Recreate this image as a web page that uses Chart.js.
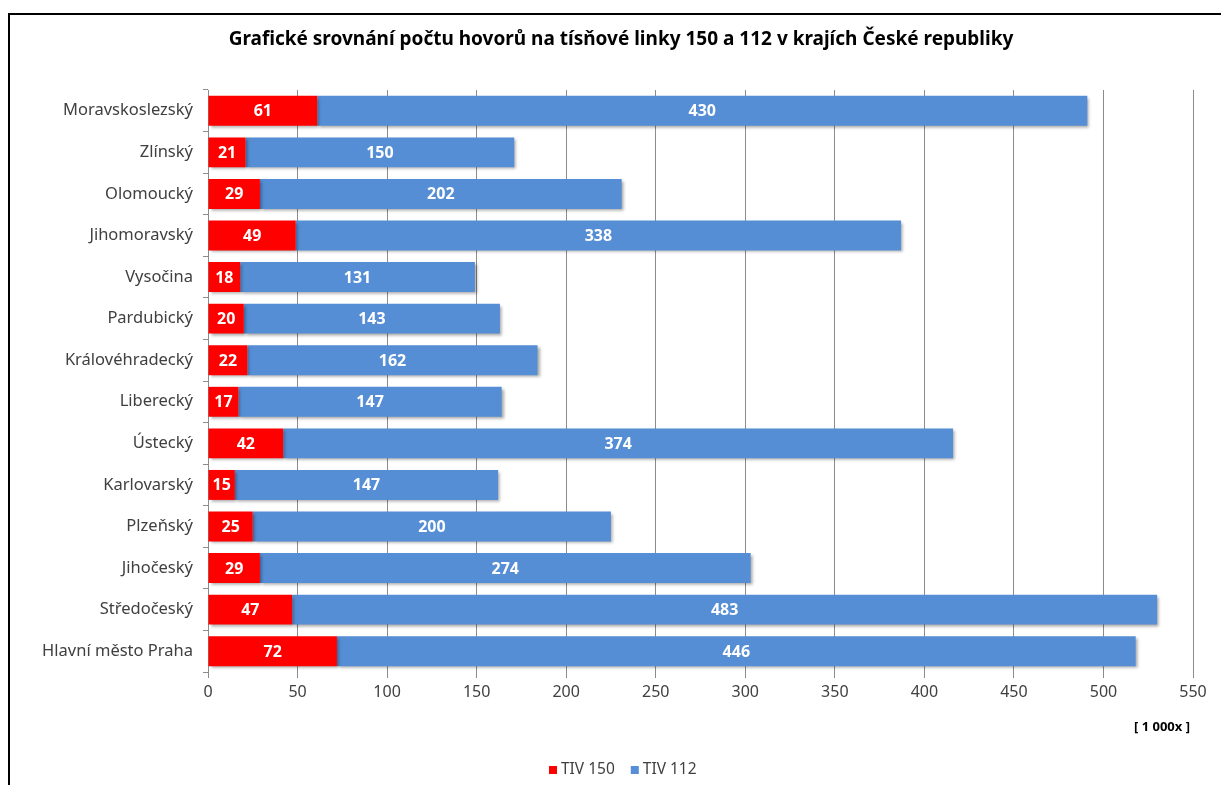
<!DOCTYPE html>
<html lang="cs">
<head>
<meta charset="utf-8">
<title>Hovory na tísňové linky 150 a 112</title>
<script src="https://cdn.jsdelivr.net/npm/chart.js@4/dist/chart.umd.min.js"></script>
<style>
  html, body { margin: 0; padding: 0; background: #fff; overflow: hidden; }
  #wrap { position: relative; width: 1221px; height: 785px; }
  #frame {
    position: absolute; left: 8px; top: 13px; width: 1300px; height: 900px;
    border: 2.5px solid #000; box-sizing: border-box; pointer-events: none;
  }
  canvas { position: absolute; left: 0; top: 0; }
</style>
</head>
<body>
<div id="wrap">
  <canvas id="chart" width="1221" height="785"></canvas>
  <div id="frame"></div>
</div>
<script>
// ── Data ────────────────────────────────────────────
const regions = [
  "Moravskoslezský", "Zlínský", "Olomoucký", "Jihomoravský", "Vysočina",
  "Pardubický", "Královéhradecký", "Liberecký", "Ústecký", "Karlovarský",
  "Plzeňský", "Jihočeský", "Středočeský", "Hlavní město Praha",
];
const tiv150 = [61, 21, 29, 49, 18, 20, 22, 17, 42, 15, 25, 29, 47, 72];
const tiv112 = [430, 150, 202, 338, 131, 143, 162, 147, 374, 147, 200, 274, 483, 446];
const xTicks = [0, 50, 100, 150, 200, 250, 300, 350, 400, 450, 500, 550];

const titleText = "Grafické srovnání počtu hovorů na tísňové linky 150 a 112 v krajích České republiky";
const unitText = "[ 1 000x ]";

const FONT = "'Noto Sans', 'DejaVu Sans', sans-serif";
const TEXT = "#404040";
const RED = "#ff0000";
const BLUE = "#558ed5";

// ── Plugins ─────────────────────────────────────────
// soft drop shadow under the bars
const barShadow = {
  id: "barShadow",
  beforeDatasetDraw(chart) {
    const ctx = chart.ctx;
    ctx.save();
    ctx.shadowColor = "rgba(0,0,0,0.35)";
    ctx.shadowBlur = 3;
    ctx.shadowOffsetX = 2;
    ctx.shadowOffsetY = 2;
  },
  afterDatasetDraw(chart) {
    chart.ctx.restore();
  },
};

// white value labels centred in each segment
const segmentLabels = {
  id: "segmentLabels",
  afterDatasetsDraw(chart) {
    const ctx = chart.ctx;
    ctx.save();
    ctx.font = "bold 16px " + FONT;
    ctx.fillStyle = "#fff";
    ctx.textAlign = "center";
    ctx.textBaseline = "middle";
    chart.data.datasets.forEach((ds, di) => {
      chart.getDatasetMeta(di).data.forEach((bar, i) => {
        const left = Math.min(bar.x, bar.base);
        const right = Math.max(bar.x, bar.base);
        ctx.fillText(String(ds.data[i]), (left + right) / 2, bar.y + 1);
      });
    });
    ctx.restore();
  },
};

// title, unit note and legend
const decorations = {
  id: "decorations",
  afterDraw(chart) {
    const ctx = chart.ctx;
    ctx.save();
    ctx.textBaseline = "middle";

    ctx.fillStyle = "#000";
    ctx.font = "bold 19px " + FONT;
    ctx.textAlign = "center";
    ctx.fillText(titleText, 621, 40);

    ctx.font = "bold 13px " + FONT;
    ctx.textAlign = "right";
    ctx.fillText(unitText, 1190, 727);

    // legend
    ctx.font = "15.5px " + FONT;
    ctx.textAlign = "left";
    let x = 549;
    const y = 770;
    chart.data.datasets.forEach((ds) => {
      ctx.fillStyle = ds.backgroundColor;
      ctx.fillRect(x, y - 4, 8, 8);
      ctx.fillStyle = TEXT;
      ctx.fillText(ds.label, x + 12, y);
      x += 12 + ctx.measureText(ds.label).width + 16;
    });
    ctx.restore();
  },
};

// ── Chart ───────────────────────────────────────────
new Chart(document.getElementById("chart"), {
  type: "bar",
  data: {
    labels: regions,
    datasets: [
      { label: "TIV 150", data: tiv150, backgroundColor: RED },
      { label: "TIV 112", data: tiv112, backgroundColor: BLUE },
    ],
  },
  options: {
    indexAxis: "y",
    responsive: false,
    animation: false,
    events: [],
    layout: { padding: { left: 0, right: 28, top: 90, bottom: 73 } },
    datasets: {
      bar: { categoryPercentage: 1, barPercentage: 0.72, borderWidth: 0 },
    },
    plugins: {
      legend: { display: false },
      title: { display: false },
      tooltip: { enabled: false },
    },
    scales: {
      x: {
        stacked: true,
        min: 0,
        max: 550,
        afterBuildTicks: (scale) => {
          scale.ticks = xTicks.map((v) => ({ value: v }));
        },
        afterFit: (scale) => { scale.height = 40; },
        grid: { color: "#8c8c8c", lineWidth: 1, tickLength: 6 },
        border: { display: false },
        ticks: {
          color: TEXT,
          font: { family: FONT, size: 16 },
          padding: 5,
          maxRotation: 0,
        },
      },
      y: {
        stacked: true,
        afterFit: (scale) => { scale.width = 208; },
        grid: { offset: true, drawOnChartArea: false, color: "#8c8c8c", tickLength: 5 },
        border: { display: true, color: "#8c8c8c", width: 1 },
        ticks: {
          color: TEXT,
          font: { family: FONT, size: 16.5 },
          padding: 10,
        },
      },
    },
  },
  plugins: [barShadow, segmentLabels, decorations],
});
</script>
</body>
</html>
